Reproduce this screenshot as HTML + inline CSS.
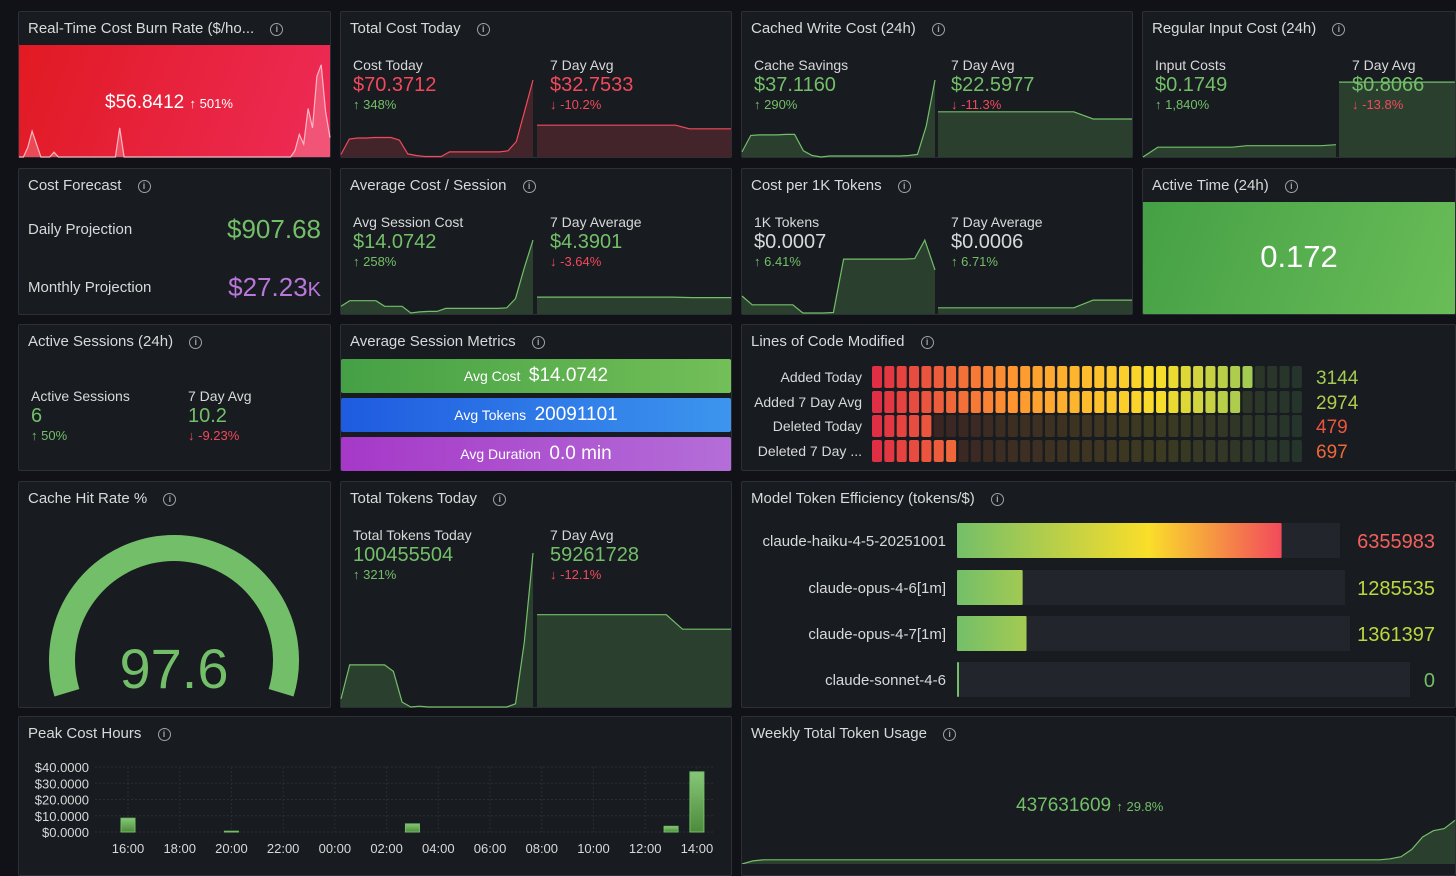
<!DOCTYPE html>
<html><head><meta charset="utf-8">
<style>
*{box-sizing:border-box;margin:0;padding:0}
body{width:1456px;height:864px;background:#111217;font-family:"Liberation Sans",sans-serif;color:#d8d9da;position:relative;overflow:hidden}
.p{position:absolute;background:#181b1f;border:1px solid #2c2f35;border-radius:2px}
.t{position:absolute;left:9px;top:8px;font-size:15px;color:#d8d9da;white-space:nowrap;z-index:3}
.i{display:inline-block;width:13px;height:13px;border:1.3px solid #9fa2a8;border-radius:50%;font-size:9px;line-height:11px;text-align:center;color:#9fa2a8;margin-left:12px;vertical-align:1px;font-weight:bold}
.a{position:absolute;z-index:3;white-space:nowrap}
.l{font-size:14px;color:#d8d9da}
.v{font-size:20px}
.c{font-size:13px}
.g{color:#73bf69}.r{color:#f2495c}.w{color:#d8d9da}.pu{color:#b877d9}
#sv{position:absolute;left:0;top:0;z-index:2}
</style></head><body>
<svg id="sv" width="1456" height="864"></svg>

<!-- Row 1 -->
<div class="p" style="left:18px;top:11px;width:313px;height:147px;overflow:hidden">
<div class="t">Real-Time Cost Burn Rate ($/ho... <span class="i">i</span></div>
<div style="position:absolute;left:0;top:33px;width:313px;height:114px;background:linear-gradient(110deg,#e11a22,#ee2b58)"></div>
<div class="a" style="left:86px;top:80px;font-size:19px;color:#fff">$56.8412 <span style="font-size:13px">↑ 501%</span></div>
</div>
<div class="p" style="left:340px;top:11px;width:392px;height:147px">
<div class="t">Total Cost Today <span class="i">i</span></div>
<div class="a l" style="left:12px;top:45px">Cost Today</div><div class="a v r" style="left:12px;top:62px">$70.3712</div><div class="a c g" style="left:12px;top:85px">↑ 348%</div>
<div class="a l" style="left:209px;top:45px">7 Day Avg</div><div class="a v r" style="left:209px;top:62px">$32.7533</div><div class="a c r" style="left:209px;top:85px">↓ -10.2%</div>
</div>
<div class="p" style="left:741px;top:11px;width:392px;height:147px">
<div class="t">Cached Write Cost (24h) <span class="i">i</span></div>
<div class="a l" style="left:12px;top:45px">Cache Savings</div><div class="a v g" style="left:12px;top:62px">$37.1160</div><div class="a c g" style="left:12px;top:85px">↑ 290%</div>
<div class="a l" style="left:209px;top:45px">7 Day Avg</div><div class="a v g" style="left:209px;top:62px">$22.5977</div><div class="a c r" style="left:209px;top:85px">↓ -11.3%</div>
</div>
<div class="p" style="left:1142px;top:11px;width:314px;height:147px">
<div class="t">Regular Input Cost (24h) <span class="i">i</span></div>
<div class="a l" style="left:12px;top:45px">Input Costs</div><div class="a v g" style="left:12px;top:62px">$0.1749</div><div class="a c g" style="left:12px;top:85px">↑ 1,840%</div>
<div class="a l" style="left:209px;top:45px">7 Day Avg</div><div class="a v g" style="left:209px;top:62px">$0.8066</div><div class="a c r" style="left:209px;top:85px">↓ -13.8%</div>
</div>

<!-- Row 2 -->
<div class="p" style="left:18px;top:168px;width:313px;height:147px">
<div class="t">Cost Forecast <span class="i">i</span></div>
<div class="a l" style="left:9px;top:52px;font-size:15px">Daily Projection</div>
<div class="a g" style="right:9px;top:45px;font-size:26px">$907.68</div>
<div class="a l" style="left:9px;top:110px;font-size:15px">Monthly Projection</div>
<div class="a pu" style="right:9px;top:103px;font-size:26px">$27.23<span style="font-size:20px">K</span></div>
</div>
<div class="p" style="left:340px;top:168px;width:392px;height:147px">
<div class="t">Average Cost / Session <span class="i">i</span></div>
<div class="a l" style="left:12px;top:45px">Avg Session Cost</div><div class="a v g" style="left:12px;top:62px">$14.0742</div><div class="a c g" style="left:12px;top:85px">↑ 258%</div>
<div class="a l" style="left:209px;top:45px">7 Day Average</div><div class="a v g" style="left:209px;top:62px">$4.3901</div><div class="a c r" style="left:209px;top:85px">↓ -3.64%</div>
</div>
<div class="p" style="left:741px;top:168px;width:392px;height:147px">
<div class="t">Cost per 1K Tokens <span class="i">i</span></div>
<div class="a l" style="left:12px;top:45px">1K Tokens</div><div class="a v w" style="left:12px;top:62px">$0.0007</div><div class="a c g" style="left:12px;top:85px">↑ 6.41%</div>
<div class="a l" style="left:209px;top:45px">7 Day Average</div><div class="a v w" style="left:209px;top:62px">$0.0006</div><div class="a c g" style="left:209px;top:85px">↑ 6.71%</div>
</div>
<div class="p" style="left:1142px;top:168px;width:314px;height:147px;overflow:hidden">
<div class="t">Active Time (24h) <span class="i">i</span></div>
<div style="position:absolute;left:0;top:33px;width:314px;height:114px;background:linear-gradient(110deg,#45a045,#6abd58)"></div>
<div class="a" style="left:0;width:312px;text-align:center;top:70px;font-size:31px;color:#fff">0.172</div>
</div>

<!-- Row 3 -->
<div class="p" style="left:18px;top:324px;width:313px;height:147px">
<div class="t">Active Sessions (24h) <span class="i">i</span></div>
<div class="a l" style="left:12px;top:63px">Active Sessions</div><div class="a v g" style="left:12px;top:80px">6</div><div class="a c g" style="left:12px;top:103px">↑ 50%</div>
<div class="a l" style="left:169px;top:63px">7 Day Avg</div><div class="a v g" style="left:169px;top:80px">10.2</div><div class="a c r" style="left:169px;top:103px">↓ -9.23%</div>
</div>
<div class="p" style="left:340px;top:324px;width:392px;height:147px">
<div class="t">Average Session Metrics <span class="i">i</span></div>
<div style="position:absolute;left:0;top:34px;width:390px;height:34px;background:linear-gradient(90deg,#45a045,#73bf58);border-radius:2px;text-align:center;color:#fff;line-height:34px"><span style="font-size:14px">Avg Cost</span> <span style="font-size:19px;margin-left:4px">$14.0742</span></div>
<div style="position:absolute;left:0;top:73px;width:390px;height:34px;background:linear-gradient(90deg,#1f5be0,#3d95ee);border-radius:2px;text-align:center;color:#fff;line-height:34px"><span style="font-size:14px">Avg Tokens</span> <span style="font-size:19px;margin-left:4px">20091101</span></div>
<div style="position:absolute;left:0;top:112px;width:390px;height:34px;background:linear-gradient(90deg,#a638c8,#b46ed8);border-radius:2px;text-align:center;color:#fff;line-height:34px"><span style="font-size:14px">Avg Duration</span> <span style="font-size:19px;margin-left:4px">0.0 min</span></div>
</div>
<div class="p" style="left:741px;top:324px;width:715px;height:147px">
<div class="t">Lines of Code Modified <span class="i">i</span></div>
</div>

<!-- Row 4 -->
<div class="p" style="left:18px;top:481px;width:313px;height:227px">
<div class="t">Cache Hit Rate % <span class="i">i</span></div>
</div>
<div class="p" style="left:340px;top:481px;width:392px;height:227px">
<div class="t">Total Tokens Today <span class="i">i</span></div>
<div class="a l" style="left:12px;top:45px">Total Tokens Today</div><div class="a v g" style="left:12px;top:62px">100455504</div><div class="a c g" style="left:12px;top:85px">↑ 321%</div>
<div class="a l" style="left:209px;top:45px">7 Day Avg</div><div class="a v g" style="left:209px;top:62px">59261728</div><div class="a c r" style="left:209px;top:85px">↓ -12.1%</div>
</div>
<div class="p" style="left:741px;top:481px;width:715px;height:227px">
<div class="t">Model Token Efficiency (tokens/$) <span class="i">i</span></div>
</div>

<!-- Row 5 -->
<div class="p" style="left:18px;top:716px;width:714px;height:160px">
<div class="t">Peak Cost Hours <span class="i">i</span></div>
</div>
<div class="p" style="left:741px;top:716px;width:715px;height:160px">
<div class="t">Weekly Total Token Usage <span class="i">i</span></div>
<div class="a g" style="left:274px;top:78px;font-size:19px">437631609 <span style="font-size:13px">↑ 29.8%</span></div>
</div>

<script>
// ---- data ----
const burnSeries=[0,0,6,16,8,0,0,0,3,0,0,0,0,0,0,0,0,0,0,0,0,0,0,18,0,0,0,0,0,0,0,0,0,0,0,0,0,0,0,0,0,0,0,0,0,0,0,0,0,0,0,0,0,0,0,0,0,0,0,0,0,0,0,4,14,8,30,18,50,57,28,12];
const costTodaySeries=[0.5,3.5,3.7,3.7,3.8,3.8,3.8,3.3,0.6,0.3,0.1,0.1,0.1,1,1,1,1,1,1,1,1.2,3,9,15];
const costAvgSeries=[6.2,6.2,6.2,6.2,6.2,6.2,6.2,6.2,6.2,6.2,6.2,5.5,5.5,5.5,5.5];
const cacheTodaySeries=[1,4.2,4.3,4.3,4.3,4.4,4.4,1.2,0.3,0,0.2,0.2,0.2,0.2,0.2,0.2,0.2,0.2,0.2,0.3,0.5,6,15];
const cacheAvgSeries=[8.8,8.8,8.8,8.8,8.8,8.8,8.8,8.8,7.4,7.4,7.4];
const inputTodaySeries=[0,1.9,1.9,1.9,1.9,1.9,1.9,2.2,2.2,2.2,2.2,2.2,2.2,2.4];
const inputAvgSeries=[14.6,14.6,14.6,14.6];
const sessTodaySeries=[1.5,2.6,2.6,2.6,2.6,1.5,1.5,1.5,0.2,0.4,0.5,0.5,1.1,1.1,1.1,1.1,1.1,1.1,1.1,1.2,3,9,14.4];
const sessAvgSeries=[3.3,3.3,3.3,3.3,3.3,3.3,3.3,3.3,3.2,3.2,3.2];
const k1TodaySeries=[3.5,1.8,1.8,1.8,1.8,1.8,0.2,0.2,0.2,0.3,10.7,10.7,10.7,10.7,10.7,10.7,10.7,10.8,14.4,8.6];
const k1AvgSeries=[1.2,1.2,1.2,1.2,1.2,1.2,1.2,1.2,2.7,2.7,2.7];
const tokTodaySeries=[5,26,26,26,26,26,22,3,0,0.5,0,0,0,0,0,0,0,0,0,0,2,40,95];
const tokAvgSeries=[57,57,57,57,57,57,57,57,57,48,48,48,48];
const weeklySeries=[0,3,4,4,4,4,4,4,4,4,4,4,4,4,4,4,4,4,4,4,4,4,4,4,4,4,4,4,4,4,4,4,4,4,4,4,4,4,4,4,4,4,4,4,4,4,4,4,4,4,4,4,4,4,4,4,4,4,4,4,5,7,14,26,32,34,42];
// lines of code
const locLabels=["Added Today","Added 7 Day Avg","Deleted Today","Deleted 7 Day ..."];
const locValues=[3144,2974,479,697];
const locMax=3550;
// model efficiency
const modelNames=["claude-haiku-4-5-20251001","claude-opus-4-6[1m]","claude-opus-4-7[1m]","claude-sonnet-4-6"];
const modelValues=[6355983,1285535,1361397,0];
const modelMax=7500000;
// gauge
const cacheHit=97.6;
const gaugeMax=97.6;
// peak cost hours
const hourLabels=["16:00","18:00","20:00","22:00","00:00","02:00","04:00","06:00","08:00","10:00","12:00","14:00"];
const peakHours=[0,4,11,21,22];
const peakValues=[8.5,0.5,5,3.5,37];
const yTicks=[0,10,20,30,40];

const NS="http://www.w3.org/2000/svg";
const sv=document.getElementById('sv');
function mk(tag,attrs,parent){const e=document.createElementNS(NS,tag);for(const k in attrs)e.setAttribute(k,attrs[k]);(parent||sv).appendChild(e);return e;}

function spark(name,x0,x1,yTop,yBot,data,max,stroke,fill){
  const n=data.length;
  const sx=i=>x0+(x1-x0)*i/(n-1);
  const sy=v=>yBot-(yBot-yTop)*v/max;
  let pts=data.map((v,i)=>sx(i).toFixed(1)+','+sy(v).toFixed(1)).join(' ');
  const poly=mk('polygon',{points:x0+','+yBot+' '+pts+' '+x1+','+yBot,fill:fill});
  
  
  const pl=mk('polyline',{points:pts,fill:'none',stroke:stroke,'stroke-width':1.2});
  
  
}
const GL='#73bf69',GF='rgba(115,191,105,0.22)',RL='#f2495c',RF='rgba(242,73,92,0.2)';
spark('burn-rate-sparkline',19,330,60,157,burnSeries,60,'rgba(255,205,215,0.85)','rgba(255,210,220,0.25)');
spark('cost-today-sparkline',341,533,80,157,costTodaySeries,15,RL,RF);
spark('cost-avg-sparkline',537,731,80,157,costAvgSeries,15,RL,RF);
spark('cache-today-sparkline',742,935,80,157,cacheTodaySeries,15,GL,GF);
spark('cache-avg-sparkline',938,1132,80,157,cacheAvgSeries,15,GL,GF);
spark('input-today-sparkline',1143,1336,80,157,inputTodaySeries,15,GL,GF);
spark('input-avg-sparkline',1339,1455,80,157,inputAvgSeries,15,GL,GF);
spark('session-today-sparkline',341,533,237,314,sessTodaySeries,15,GL,GF);
spark('session-avg-sparkline',537,731,237,314,sessAvgSeries,15,GL,GF);
spark('k1-today-sparkline',742,935,237,314,k1TodaySeries,15,GL,GF);
spark('k1-avg-sparkline',938,1132,237,314,k1AvgSeries,15,GL,GF);
spark('tokens-today-sparkline',341,533,545,707,tokTodaySeries,100,GL,GF);
spark('tokens-avg-sparkline',537,731,545,707,tokAvgSeries,100,GL,GF);
spark('weekly-sparkline',742,1455,760,864,weeklySeries,100,GL,GF);

// LED bar gauge
const CELLS=35;
function cellColor(i){
  const stops=[[224,47,68],[255,152,48],[250,222,42],[115,191,105]];
  const t=i/(CELLS-1)*3;const k=Math.min(2,Math.floor(t));const f=t-k;
  const a=stops[k],b=stops[k+1];
  return [0,1,2].map(j=>Math.round(a[j]+(b[j]-a[j])*f));
}
const rowY=[366,391,415,440];
locLabels.forEach((lab,r)=>{
  const t=mk('text',{x:862,y:rowY[r]+16,'text-anchor':'end','font-size':14,fill:'#d8d9da'});
  t.textContent=lab;
  
  
  const lit=Math.ceil(locValues[r]/locMax*CELLS);
  for(let i=0;i<CELLS;i++){
    const c=cellColor(i);const on=i<lit;
    const rc=mk('rect',{x:872+i*12.35,y:rowY[r],width:10,height:22,rx:2,fill:on?`rgb(${c})`:`rgba(${c},0.16)`});
    
    
  }
  const cc=cellColor(Math.max(0,lit-1));
  const v=mk('text',{x:1316,y:rowY[r]+18,'font-size':19,fill:`rgb(${cc})`});
  v.textContent=locValues[r];
  
  
});

// Model efficiency bars
const defs=mk('defs',{});
const lg=mk('linearGradient',{id:'mg',gradientUnits:'userSpaceOnUse',x1:957,y1:0,x2:1340,y2:0},defs);
[['0','#73bf69'],['0.5','#fade2a'],['0.85','#f2495c'],['1','#f2495c']].forEach(s=>mk('stop',{offset:s[0],'stop-color':s[1]},lg));
const mTop=[523,570,616,662];
const trackEnd=[1340,1345,1350,1410];
const valColors=['#f2605c','#b8d940','#b8d940','#73bf69'];
modelNames.forEach((nm,r)=>{
  const t=mk('text',{x:946,y:mTop[r]+23,'text-anchor':'end','font-size':15,fill:'#d8d9da'});
  t.textContent=nm;
  
  
  const tr=mk('rect',{x:957,y:mTop[r],width:trackEnd[r]-957,height:35,fill:'#22252b'});
  
  
  const w=Math.max(2,(1340-957)*modelValues[r]/modelMax);
  const b=mk('rect',{x:957,y:mTop[r],width:w,height:35,fill:'url(#mg)',rx:1});
  
  
  const v=mk('text',{x:1435,y:mTop[r]+25,'text-anchor':'end','font-size':20,fill:valColors[r]});
  v.textContent=modelValues[r];
  
  
});

// Gauge
(function(){
  const cx=174,cy=660,R=112,a0=197,a1=-17;
  const pt=a=>[cx+R*Math.cos(a*Math.PI/180),cy-R*Math.sin(a*Math.PI/180)];
  const arc=(s,e)=>{const p=pt(s),q=pt(e);const large=(s-e)>180?1:0;return `M${p[0]},${p[1]} A${R},${R} 0 ${large} 1 ${q[0]},${q[1]}`;};
  const bg=mk('path',{d:arc(a0,a1),fill:'none',stroke:'#2a2d33','stroke-width':26});
  
  
  const ae=a0-(a0-a1)*Math.min(1,cacheHit/gaugeMax);
  const fg=mk('path',{d:arc(a0,ae),fill:'none',stroke:'#73bf69','stroke-width':26});
  
  
  const t=mk('text',{x:cx,y:688,'text-anchor':'middle','font-size':56,fill:'#73bf69'});
  t.textContent=cacheHit;
  
  
})();

// Peak cost hours bar chart
const PX0=128,HOURW=25.86,PY0=832,PY1=767,YMAX=40;
const xH=h=>PX0+h*HOURW;
const yV=v=>PY0-(PY0-PY1)*v/YMAX;
yTicks.forEach(v=>{
  const g=mk('line',{x1:95,x2:715,y1:yV(v),y2:yV(v),stroke:'#2a2d33','stroke-width':1,'stroke-dasharray':'2,2'});
  
  
  const t=mk('text',{x:89,y:yV(v)+5,'text-anchor':'end','font-size':13,fill:'#d8d9da'});
  t.textContent='$'+v.toFixed(4);
  
  
});
hourLabels.forEach((lab,i)=>{
  const x=xH(i*2);
  const g=mk('line',{x1:x,x2:x,y1:PY1,y2:PY0,stroke:'#2a2d33','stroke-width':1,'stroke-dasharray':'2,2'});
  
  
  const t=mk('text',{x:x,y:853,'text-anchor':'middle','font-size':13,fill:'#d8d9da'});
  t.textContent=lab;
  
  
});
const bgr=mk('linearGradient',{id:'bg2',x1:0,y1:0,x2:0,y2:1},defs);
mk('stop',{offset:'0','stop-color':'#86c878'},bgr);mk('stop',{offset:'1','stop-color':'#4e8a3c'},bgr);
peakHours.forEach((h,i)=>{
  const b=mk('rect',{x:xH(h)-7,y:yV(peakValues[i]),width:14,height:PY0-yV(peakValues[i]),fill:'url(#bg2)',stroke:'#73bf69','stroke-width':1});
  
  
});
</script>
</body></html>
